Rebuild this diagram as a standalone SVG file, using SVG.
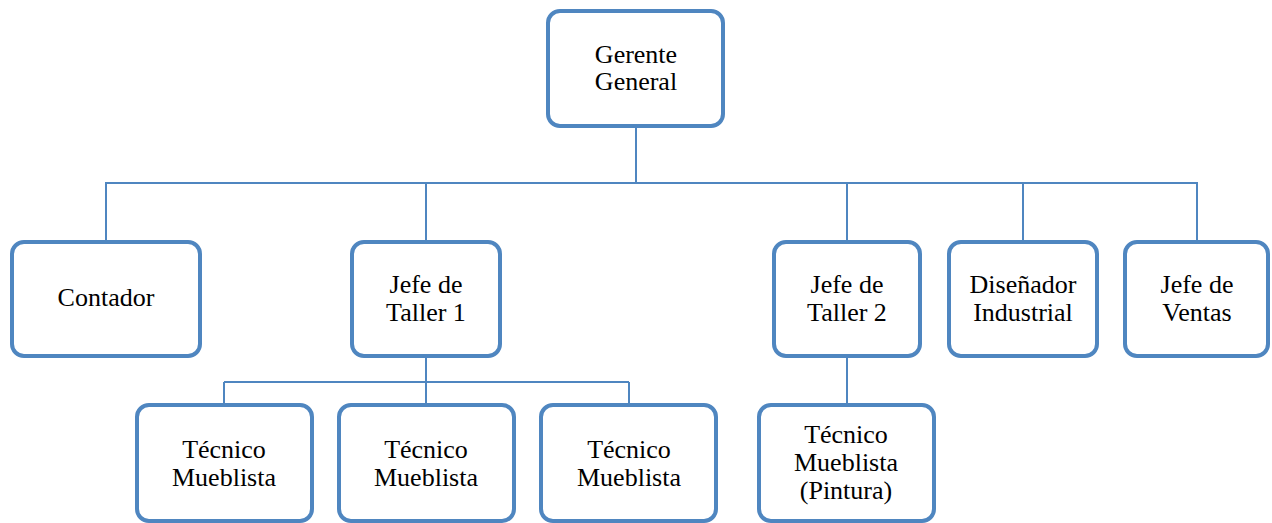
<svg xmlns="http://www.w3.org/2000/svg" width="1272" height="523" viewBox="0 0 1272 523">
<style>
.box{fill:#fff;stroke:#4F86C0;stroke-width:4}
.conn{fill:none;stroke:#4F86C0;stroke-width:2}
.t{font-family:'Liberation Serif','Times New Roman',Times,serif;font-size:26px;fill:#000;text-anchor:middle}
</style>
<rect width="1272" height="523" fill="#fff"/>
<g id="connectors">
<path class="conn" d="M636 128V183M105 183H1198M106 183V240M426 183V240M847 183V240M1023 183V240M1197 183V240"/>
<path class="conn" d="M426 357V382M224 382H629M224 382V403M426 382V403M629 382V403"/>
<path class="conn" d="M847 357V403"/>
</g>
<g id="gerente" class="t"><rect class="box" x="548" y="11" width="175" height="115" rx="12"/><text x="636" y="63">Gerente</text><text x="636" y="90">General</text></g>
<g id="contador" class="t"><rect class="box" x="12" y="242" width="188" height="114" rx="12"/><text x="106" y="306">Contador</text></g>
<g id="jefe1" class="t"><rect class="box" x="352" y="242" width="148" height="114" rx="12"/><text x="426" y="293">Jefe de</text><text x="426" y="321">Taller 1</text></g>
<g id="jefe2" class="t"><rect class="box" x="774" y="242" width="146" height="114" rx="12"/><text x="847" y="293">Jefe de</text><text x="847" y="321">Taller 2</text></g>
<g id="disenador" class="t"><rect class="box" x="949" y="242" width="148" height="114" rx="12"/><text x="1023" y="293">Diseñador</text><text x="1023" y="321">Industrial</text></g>
<g id="ventas" class="t"><rect class="box" x="1125" y="242" width="143" height="114" rx="12"/><text x="1197" y="293">Jefe de</text><text x="1197" y="321">Ventas</text></g>
<g id="tec1" class="t"><rect class="box" x="137" y="405" width="175" height="116" rx="12"/><text x="224" y="458">Técnico</text><text x="224" y="486">Mueblista</text></g>
<g id="tec2" class="t"><rect class="box" x="339" y="405" width="175" height="116" rx="12"/><text x="426" y="458">Técnico</text><text x="426" y="486">Mueblista</text></g>
<g id="tec3" class="t"><rect class="box" x="541" y="405" width="175" height="116" rx="12"/><text x="629" y="458">Técnico</text><text x="629" y="486">Mueblista</text></g>
<g id="tec4" class="t"><rect class="box" x="759" y="405" width="175" height="116" rx="12"/><text x="846" y="443">Técnico</text><text x="846" y="471">Mueblista</text><text x="846" y="499">(Pintura)</text></g>
</svg>
